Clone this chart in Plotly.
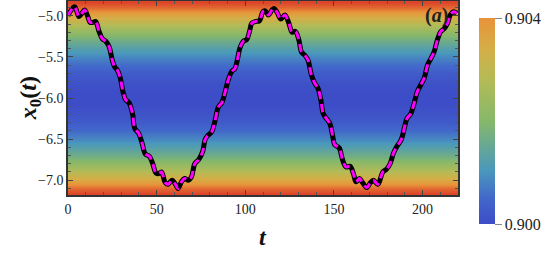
import plotly.graph_objects as go

# ---- trajectory x0(t) ----
t_vals = [0.0, 1.5, 3.7, 5.0, 6.2, 7.8, 9.4, 11.0, 12.5, 14.1, 15.6, 17.5, 19.4, 21.3,
          23.1, 25.0, 26.3, 27.8, 29.3, 31.2, 32.5, 34.5, 36.4, 37.7, 39.9, 41.8,
          43.6, 45.9, 47.8, 49.6, 51.2, 52.7, 54.9, 56.5, 58.7, 60.6, 62.1, 64.0,
          65.8, 67.7, 69.6, 71.5, 73.7, 76.0, 77.3, 78.7, 81.1, 83.0, 84.8, 86.7,
          88.0, 90.4, 92.3, 94.2, 95.5, 97.0, 98.9, 100.8, 102.4, 103.7, 105.6,
          108.0, 109.9, 111.2, 113.0, 115.1, 116.3, 118.0, 120.0, 122.3, 124.6,
          126.4, 128.3, 130.2, 131.7, 133.6, 135.4, 137.3, 139.2, 141.0, 142.6,
          144.0, 145.8, 147.7, 149.2, 150.5, 152.0, 153.1, 155.0, 156.9, 159.1,
          161.0, 162.5, 164.4, 166.2, 168.5, 170.6, 172.3, 174.8, 177.6, 179.5,
          181.7, 183.6, 185.5, 187.9, 189.9, 191.2, 193.4, 195.3, 197.1, 199.0,
          200.9, 202.8, 204.7, 206.5, 208.4, 210.3, 212.1, 214.1, 215.6, 217.5, 219.4]
x0_vals = [-5.00, -4.94, -4.89, -4.95, -5.01, -4.97, -4.93, -5.00, -5.08, -5.08, -5.07,
           -5.19, -5.28, -5.31, -5.37, -5.54, -5.62, -5.66, -5.74, -5.94, -6.02, -6.06,
           -6.19, -6.37, -6.43, -6.55, -6.68, -6.71, -6.80, -6.91, -6.92, -6.90, -7.03,
           -7.05, -7.00, -7.05, -7.10, -7.02, -6.98, -7.00, -6.96, -6.80, -6.75, -6.65,
           -6.51, -6.46, -6.41, -6.27, -6.11, -6.06, -5.98, -5.78, -5.68, -5.64, -5.54,
           -5.39, -5.31, -5.29, -5.19, -5.09, -5.07, -5.06, -4.95, -4.94, -4.99, -4.93,
           -4.91, -4.96, -5.04, -4.99, -5.09, -5.20, -5.19, -5.29, -5.44, -5.48, -5.54,
           -5.72, -5.82, -5.88, -6.02, -6.19, -6.25, -6.31, -6.45, -6.57, -6.59, -6.61,
           -6.76, -6.84, -6.83, -6.92, -7.02, -6.98, -7.03, -7.09, -7.03, -7.00, -7.05,
           -6.90, -6.87, -6.80, -6.67, -6.59, -6.51, -6.35, -6.25, -6.19, -6.06, -5.92,
           -5.84, -5.76, -5.60, -5.52, -5.44, -5.29, -5.19, -5.16, -5.09, -4.99, -4.95,
           -4.97]

bg_y = [-7.3, -7.2, -7.1, -7.0, -6.9, -6.8, -6.7, -6.6, -6.5, -6.4, -6.3, -6.2, -6.1,
        -6.0, -5.9, -5.8, -5.7, -5.6, -5.5, -5.4, -5.3, -5.2, -5.1, -5.0, -4.9, -4.8, -4.7]
bg_z = [0.90490, 0.90490, 0.90435, 0.90355, 0.90285, 0.90222, 0.90168, 0.90122, 0.90085,
        0.90054, 0.90030, 0.90013, 0.90003, 0.90000, 0.90003, 0.90013, 0.90030, 0.90054,
        0.90085, 0.90122, 0.90168, 0.90222, 0.90285, 0.90355, 0.90435, 0.90490, 0.90490]
bg_x = [-20, 240]

cbar_ticks = [0.900, 0.904]
cbar_text = ["0.900", "0.904"]
x_ticks = [0, 50, 100, 150, 200]
y_ticks = [-7.0, -6.5, -6.0, -5.5, -5.0]

heat_scale = [
    [0.0, "#3d4cc7"], [0.102, "#4266cb"], [0.221, "#4a98bc"], [0.426, "#86b86a"],
    [0.596, "#b4bb56"], [0.723, "#d4ae47"], [0.851, "#e8933a"], [1.0, "#dc4529"]]
cbar_scale = [
    [0.0, "#3d4cc7"], [0.12, "#4266cb"], [0.26, "#4a98bc"], [0.5, "#86b86a"],
    [0.7, "#b4bb56"], [0.85, "#d4ae47"], [1.0, "#e8933a"]]

fig = go.Figure()
fig.add_trace(go.Heatmap(
    x=bg_x, y=bg_y, z=[[v, v] for v in bg_z], zmin=0.900, zmax=0.9047,
    colorscale=heat_scale, zsmooth="best", showscale=False, hoverinfo="skip"))

fig.add_trace(go.Scatter(
    x=t_vals, y=x0_vals, mode="lines",
    line=dict(color="black", width=5, shape="spline", smoothing=1.0), showlegend=False))
fig.add_trace(go.Scatter(
    x=t_vals, y=x0_vals, mode="lines",
    line=dict(color="#ff00ff", width=3, dash="8px,5px", shape="spline", smoothing=1.0),
    showlegend=False))

fig.add_trace(go.Scatter(
    x=[-100], y=[-6], mode="markers", showlegend=False, hoverinfo="skip",
    marker=dict(color=[0.902], colorscale=cbar_scale, cmin=0.900, cmax=0.904,
                opacity=0, showscale=True,
                colorbar=dict(x=1.054, xanchor="left", xpad=0, y=0.912, yanchor="top",
                              ypad=0, len=206, lenmode="pixels", thickness=16,
                              outlinewidth=0, tickvals=cbar_ticks, ticktext=cbar_text,
                              ticks="outside", ticklen=7, tickcolor="#888",
                              tickfont=dict(family="Liberation Serif", size=16, color="#222")))))

axis_font = dict(family="Liberation Serif", size=14, color="#222")
fig.update_xaxes(range=[0, 220], tickvals=x_ticks, ticks="inside", ticklen=5,
                 tickcolor="#444", showline=True, linecolor="#333", linewidth=1.5,
                 mirror="ticks", showgrid=False, zeroline=False, tickfont=axis_font,
                 minor=dict(dtick=10, ticks="inside", ticklen=3, tickcolor="#555"))
fig.update_yaxes(range=[-7.18, -4.82], tickvals=y_ticks, tickformat=".1f",
                 ticks="inside", ticklen=5, tickcolor="#444", showline=True,
                 linecolor="#333", linewidth=1.5, mirror="ticks", showgrid=False,
                 zeroline=False, tickfont=axis_font,
                 minor=dict(dtick=0.1, tick0=-7.0, ticks="inside", ticklen=3,
                            tickcolor="#555"))

fig.add_annotation(text="<b><i>x</i><sub>0</sub>(<i>t</i>)</b>", xref="paper", yref="paper",
                   x=-0.097, y=0.5, xanchor="center", yanchor="middle", textangle=-90,
                   showarrow=False, font=dict(family="Liberation Serif", size=24, color="#111"))
fig.add_annotation(text="<b><i>t</i></b>", xref="paper", yref="paper",
                   x=0.5, y=-0.216, xanchor="center", yanchor="middle",
                   showarrow=False, font=dict(family="Liberation Serif", size=24, color="#111"))
fig.add_annotation(text="<b>(<i>a</i>)</b>", xref="paper", yref="paper",
                   x=0.944, y=0.925, xanchor="center", yanchor="middle",
                   showarrow=False, font=dict(family="Liberation Serif", size=20, color="#222"))

fig.update_layout(width=555, height=255, margin=dict(l=68, r=97, t=1, b=60, autoexpand=False),
                  plot_bgcolor="white", paper_bgcolor="white")

fig.write_html("out.html", config={"displayModeBar": False},
               post_script="document.body.style.margin='0';document.body.style.padding='0';")
